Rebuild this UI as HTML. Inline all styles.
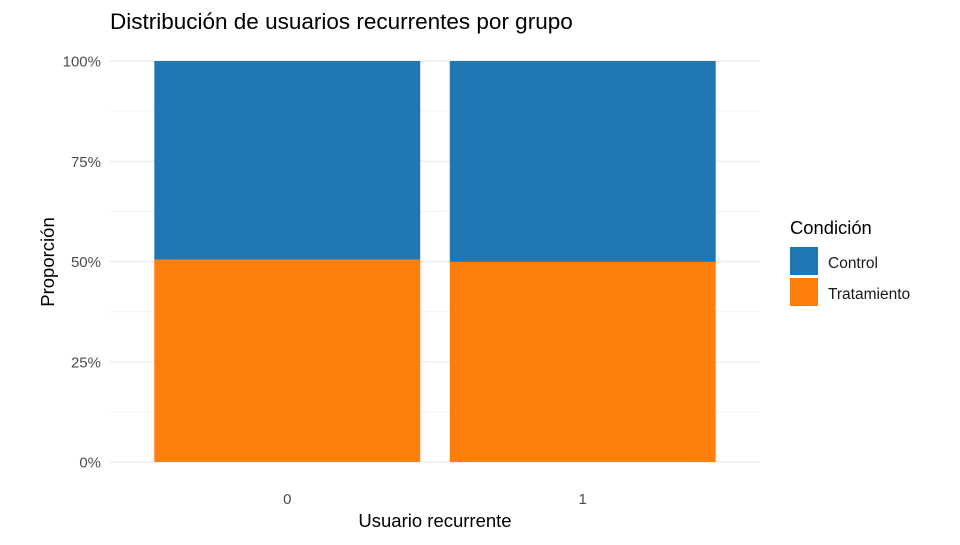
<!DOCTYPE html>
<html><head><meta charset="utf-8"><style>
body{margin:0;background:#fff;font-family:"Liberation Sans",sans-serif;}
</style></head><body>
<svg width="960" height="540" xmlns="http://www.w3.org/2000/svg" id="chart">
<text x="110" y="29" font-size="22.5" fill="#000">Distribución de usuarios recurrentes por grupo</text>
<g id="grid"></g>
<g id="bars"></g>
<g id="axes"></g>
<text x="435" y="527" font-size="18.5" text-anchor="middle" fill="#000">Usuario recurrente</text>
<text transform="translate(54,262) rotate(-90)" font-size="18.5" text-anchor="middle" fill="#000">Proporción</text>
<g>
<text x="790" y="234" font-size="18.4" fill="#000">Condición</text>
<rect x="790" y="247" width="28" height="28" fill="#1f77b4"/>
<text x="828" y="268" font-size="15.5" fill="#1a1a1a">Control</text>
<rect x="790" y="278" width="28" height="28" fill="#ff7f0e"/>
<text x="828" y="299" font-size="15.5" fill="#1a1a1a">Tratamiento</text>
</g>
</svg>
<script>
const categories=["0","1"];
const tratamiento=[0.505,0.499];
const control=[0.495,0.501];
const yTicks=[0,0.25,0.5,0.75,1];
const yTickLabels=["0%","25%","50%","75%","100%"];
const NS="http://www.w3.org/2000/svg";
const L=110,R=760,T=61,B=462;
const band=(R-L)/(categories.length+0.2);
const xc=i=>L+band*(0.6+i);
const y=v=>B-(B-T)*v;
function mk(tag,attrs,parent){const e=document.createElementNS(NS,tag);for(const k in attrs)e.setAttribute(k,attrs[k]);document.getElementById(parent).appendChild(e);return e;}
for(let k=0;k<yTicks.length-1;k++){const v=(yTicks[k]+yTicks[k+1])/2;
const g=mk("line",{x1:L,x2:R,y1:y(v),y2:y(v),stroke:"#f3f3f3","stroke-width":1},"grid");

}
yTicks.forEach((v,k)=>{
const g=mk("line",{x1:L,x2:R,y1:y(v),y2:y(v),stroke:"#ebebeb","stroke-width":1.2},"grid");


const t=mk("text",{x:101,y:y(v)+5.5,"font-size":15,"text-anchor":"end",fill:"#4d4d4d"},"axes");t.textContent=yTickLabels[k];

});
categories.forEach((c,i)=>{
const g=mk("line",{x1:xc(i),x2:xc(i),y1:T,y2:B,stroke:"#ebebeb","stroke-width":1.2},"grid");


const w=band*0.9,x0=xc(i)-w/2;
const b1=mk("rect",{x:x0,y:y(tratamiento[i]),width:w,height:y(0)-y(tratamiento[i]),fill:"#ff7f0e"},"bars");


const b2=mk("rect",{x:x0,y:y(tratamiento[i]+control[i]),width:w,height:y(tratamiento[i])-y(tratamiento[i]+control[i]),fill:"#1f77b4"},"bars");


const t=mk("text",{x:xc(i),y:504,"font-size":15,"text-anchor":"middle",fill:"#4d4d4d"},"axes");t.textContent=c;

});
</script>
</body></html>
